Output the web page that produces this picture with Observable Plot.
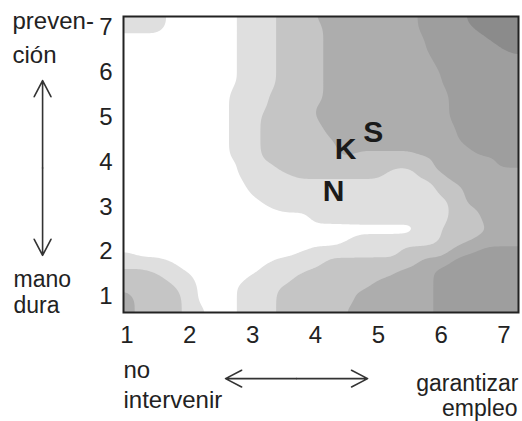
<!DOCTYPE html>
<html><head><meta charset="utf-8">
<script src="https://cdn.jsdelivr.net/npm/d3@7"></script>
<script src="https://cdn.jsdelivr.net/npm/@observablehq/plot@0.6"></script>
<style>html,body{margin:0;padding:0;background:#fff}</style>
</head><body><div id="chart"></div>
<script>
// tick values of both axes
const xTicks = [1, 2, 3, 4, 5, 6, 7];
const yTicks = [1, 2, 3, 4, 5, 6, 7];

// contour level read on a grid: "0"…"5" = level 0 (white) … 5 (darkest),
// "a"…"e" = a sample lying on the border between two levels (0.5 … 4.5)
// columns x = 0.75, 1.00, …, 7.25 ; rows y = 7.25 (top), 7.00, …, 0.50 (bottom)
const gridX0 = 0.75, gridY0 = 7.25, gridStep = 0.25;
const levelRows = [
  "11110000a1122c3333334445555", // 7.25
  "11110000a11222333333444e555", // 7.00
  "00000000a11222333333d444e55", // 6.75
  "00000000a11222333333d4444e5", // 6.50
  "00000000a112223333333444444", // 6.25
  "00000000a112223333333d44444", // 6.00
  "00000000a112223333333d44444", // 5.75
  "0000000011b2223333333344444", // 5.50
  "0000000011b22c3333333344444", // 5.25
  "0000000011222c3333333344444", // 5.00
  "0000000011222233333333d4444", // 4.75
  "00000000112222c3333333d4444", // 4.50
  "0000000011222223cccc333d444", // 4.25
  "00000000a1b2222222222333344", // 4.00
  "00000000a11b222222112c33333", // 3.75
  "0000000001111111111112c3333", // 3.50
  "000000000a11111111111b23333", // 3.25
  "0000000000a111111111112c333", // 3.00
  "000000000000011111111122333", // 2.75
  "000000000000000000001b22c33", // 2.50
  "000000000000000a11111b2c333", // 2.25
  "aa0000000000a1111112223d444", // 2.00
  "1111a00000a1112222223344444", // 1.75
  "222b1a000a11b22222c33444444", // 1.50
  "2222b100a11b222223333444444", // 1.25
  "33222100a112222233333444444", // 1.00
  "332221a0a112222c33333444444", // 0.75
  "332221a0a112222c33333444444"  // 0.50
];
const levelThresholds = [0.5, 1.5, 2.5, 3.5, 4.5];
const levelGrays = ["#dfdfdf", "#c5c5c5", "#adadad", "#9e9e9e", "#8b8b8b"];

// the three letters
const pointLabels = ["N", "K", "S"];
const pointX = [4.29, 4.48, 4.92];
const pointY = [3.35, 4.28, 4.66];

const charLevel = c => (c >= "a" ? c.charCodeAt(0) - 97 + 0.5 : +c);
// grid samples as points
const samples = levelRows.flatMap((row, j) =>
  Array.from(row, (c, i) => ({x: gridX0 + i * gridStep, y: gridY0 - j * gridStep, level: charLevel(c)})));

const ink = "#222";

const chart = Plot.plot({
  width: 522,
  height: 421,
  marginLeft: 123,
  marginRight: 4,
  marginTop: 16,
  marginBottom: 109,
  style: {fontFamily: "'Liberation Sans', Arial, sans-serif", fontSize: "24px", color: ink, background: "#fff"},
  x: {domain: [0.947, 7.23], ticks: xTicks, tickFormat: "d", tickSize: 0, tickPadding: 13, label: null},
  y: {domain: [0.645, 7.25], ticks: yTicks, tickFormat: "d", tickSize: 0, tickPadding: 11, label: null},
  color: {type: "ordinal", domain: levelThresholds, range: levelGrays},
  marks: [
    Plot.contour(samples, {
      x: "x", y: "y", fill: "level",
      interpolate: "barycentric", pixelSize: 1, blur: 5,
      thresholds: levelThresholds, clip: true
    }),
    Plot.frame({stroke: ink, strokeWidth: 2}),
    Plot.text(pointLabels, {
      x: (d, i) => pointX[i], y: (d, i) => pointY[i], text: d => d,
      fontSize: 30, fontWeight: "bold", fill: "#1a1a1a"
    }),
    // vertical axis description
    Plot.text(["preven-"], {frameAnchor: "top-left", dx: -111, dy: 12, textAnchor: "start", lineAnchor: "bottom", fontSize: 24, fill: ink}),
    Plot.text(["ción"], {frameAnchor: "top-left", dx: -111, dy: 46, textAnchor: "start", lineAnchor: "bottom", fontSize: 24, fill: ink}),
    Plot.text(["mano"], {frameAnchor: "top-left", dx: -110, dy: 270, textAnchor: "start", lineAnchor: "bottom", fontSize: 23, fill: ink}),
    Plot.text(["dura"], {frameAnchor: "top-left", dx: -110, dy: 296, textAnchor: "start", lineAnchor: "bottom", fontSize: 23, fill: ink}),
    Plot.arrow([5.82, 1.92], {x1: -0.34, x2: -0.34, y1: 3.87, y2: d => d, stroke: "#333", strokeWidth: 1.6, headLength: 17, headAngle: 55}),
    // horizontal axis description
    Plot.text(["no"], {frameAnchor: "bottom-left", dx: 0, dy: 65, textAnchor: "start", lineAnchor: "bottom", fontSize: 24, fill: ink}),
    Plot.text(["intervenir"], {frameAnchor: "bottom-left", dx: 0, dy: 95, textAnchor: "start", lineAnchor: "bottom", fontSize: 24, fill: ink}),
    Plot.text(["garantizar"], {frameAnchor: "bottom-right", dx: 0, dy: 78, textAnchor: "end", lineAnchor: "bottom", fontSize: 23, fill: ink}),
    Plot.text(["empleo"], {frameAnchor: "bottom-right", dx: -1, dy: 103, textAnchor: "end", lineAnchor: "bottom", fontSize: 23, fill: ink}),
    Plot.arrow([2.57, 4.83], {x1: 3.7, x2: d => d, y1: -0.83, y2: -0.83, stroke: "#333", strokeWidth: 1.6, headLength: 17, headAngle: 55})
  ]
});
document.getElementById("chart").appendChild(chart);
</script>
</body></html>
